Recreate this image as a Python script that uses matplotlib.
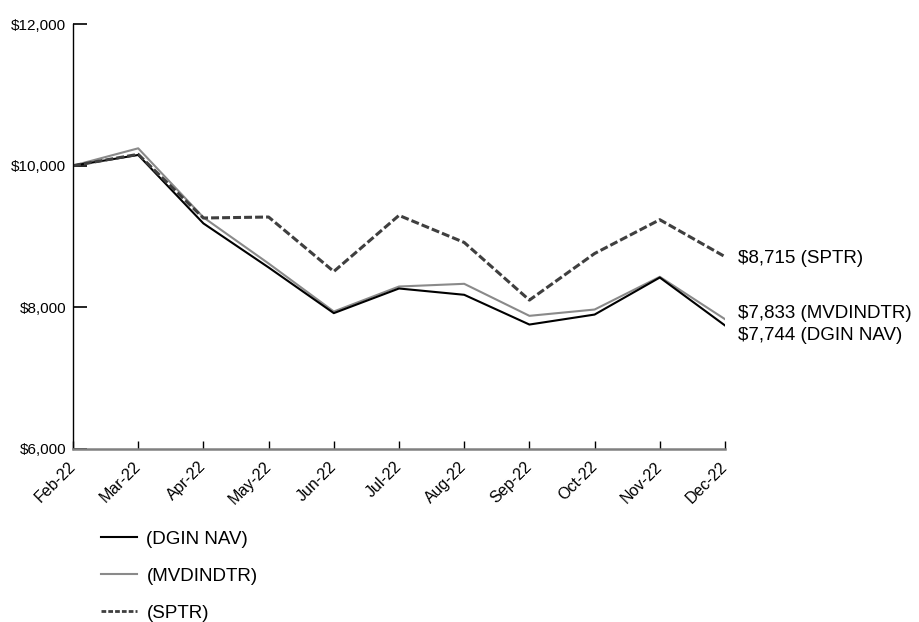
import matplotlib.pyplot as plt
from matplotlib.lines import Line2D
from matplotlib.ticker import FuncFormatter

plt.rcParams['font.family'] = ['Liberation Sans', 'DejaVu Sans']

months = ['Feb-22', 'Mar-22', 'Apr-22', 'May-22', 'Jun-22', 'Jul-22',
          'Aug-22', 'Sep-22', 'Oct-22', 'Nov-22', 'Dec-22']
dgin_nav = [10000, 10151, 9185, 8563, 7918, 8266, 8177, 7757, 7898, 8421, 7744]
mvdindtr = [10000, 10245, 9270, 8619, 7941, 8294, 8332, 7880, 7969, 8431, 7833]
sptr = [10000, 10160, 9261, 9275, 8506, 9298, 8916, 8102, 8760, 9237, 8715]

fig = plt.figure(figsize=(9.19, 6.22), dpi=100)
ax = fig.add_axes([73 / 919, 1 - 449 / 622, (725 - 73) / 919, (449 - 24) / 622])

x = range(len(months))
l_mv, = ax.plot(x, mvdindtr, color='#8a8a8a', lw=1.5, label='(MVDINDTR)')
l_dg, = ax.plot(x, dgin_nav, color='black', lw=1.5, label='(DGIN NAV)')
ax.plot(x, sptr, color='#3f3f3f', lw=2.2, ls=(0, (2.6, 1.0)))

ax.set_xlim(0, len(months) - 1)
ax.set_ylim(6000, 12000)
ax.set_yticks([6000, 8000, 10000, 12000])
ax.yaxis.set_major_formatter(FuncFormatter(lambda v, p: f'${v:,.0f}'))
ax.set_xticks(list(x))
ax.set_xticklabels(months, rotation=45, ha='right', va='center', rotation_mode='anchor')

for s in ['top', 'right']:
    ax.spines[s].set_visible(False)
ax.spines['left'].set_linewidth(1.0)
ax.spines['bottom'].set_color('#808080')
ax.spines['bottom'].set_linewidth(1.8)
ax.tick_params(axis='y', direction='in', length=10, width=1.2, labelsize=11, pad=5)
ax.tick_params(axis='x', direction='in', length=6, width=1.0, labelsize=11.5, pad=11)

# end-of-line value labels
last = len(months) - 1
ends = [(sptr[-1], 'SPTR', -1), (mvdindtr[-1], 'MVDINDTR', 4), (dgin_nav[-1], 'DGIN NAV', -7)]
for val, name, dy in ends:
    ax.annotate(f'${val:,} ({name})', xy=(last, val), xytext=(9, dy),
                textcoords='offset points', va='center', ha='left',
                fontsize=13.5, annotation_clip=False)

# legend sample for the dashed series uses a finer dash
l_sp = Line2D([], [], color='#3f3f3f', lw=2.0, ls=(0, (1.7, 0.75)), label='(SPTR)')
fig.legend(handles=[l_dg, l_mv, l_sp], loc='upper left',
           bbox_to_anchor=(92 / 919, 1 - 521 / 622), frameon=False,
           fontsize=13.5, borderpad=0, handlelength=1.9, handletextpad=0.5,
           labelspacing=1.07)

fig.savefig('out.png', dpi=100)
